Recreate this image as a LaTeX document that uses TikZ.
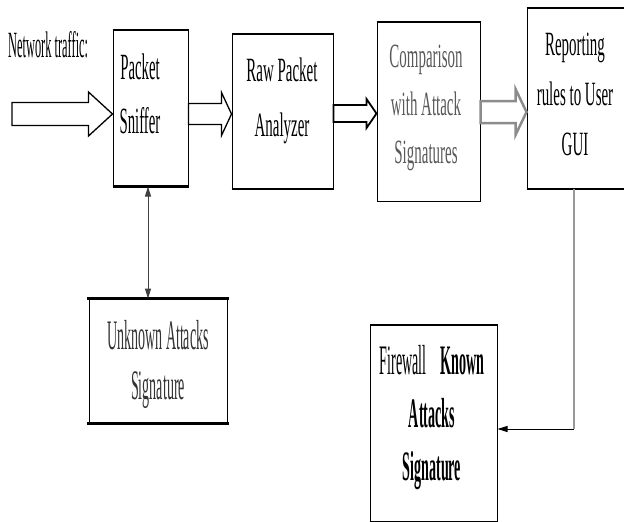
\documentclass[tikz,border=0pt]{standalone}
\usepackage{fontspec}
\usetikzlibrary{arrows.meta,calc}
\newfontfamily\condA[FakeStretch=0.40]{Liberation Serif}
\newfontfamily\condC[FakeStretch=0.44]{Liberation Serif}
\newfontfamily\condB[FakeStretch=0.335]{Liberation Serif}
\newcommand\hollowarrow[6]{%
  \draw[#1] let \p1=(#2), \p2=(#3) in
    (\x1,\y2+#4) -- (\x2-#6,\y2+#4) -- (\x2-#6,\y2+#5) -- (\x2,\y2)
    -- (\x2-#6,\y2-#5) -- (\x2-#6,\y2-#4) -- (\x1,\y2-#4) -- cycle;}
\tikzset{
  box/.style={draw=black, line width=1pt, rectangle, inner sep=0pt},
  lbl/.style={align=center, inner sep=0pt},
  txtA/.style={lbl, font=\condA\fontsize{37}{#1}\selectfont},
  txtC/.style={lbl, font=\condC\fontsize{34}{#1}\selectfont},
  txtB/.style={lbl, font=\condB\fontsize{42}{#1}\selectfont},
  thickedge/.style={line width=3pt, line cap=rect},
  harrow/.style={draw=black, line width=1.3pt, fill=white, line join=miter},
  thinarrow/.style={draw=black!75, line width=1pt},
  mytip/.tip={Triangle[length=10pt,width=6pt]},
}
\begin{document}
\begin{tikzpicture}[x=1pt,y=-1pt]
\useasboundingbox (0,0) rectangle (624,522);
% boxes
\node[box, minimum width=75pt, minimum height=156pt] (ps) at (150.5,108) {};
\node[box, minimum width=101pt, minimum height=154pt] (rpa) at (282.5,111) {};
\node[box, minimum width=103pt, minimum height=179pt] (cmp) at (428.5,111.5) {};
\node[box, minimum width=99pt, minimum height=180pt] (rep) at (576.5,98.5) {};
\node[box, line width=0.8pt, minimum width=138pt, minimum height=124pt] (unk) at (158,361) {};
\node[box, minimum width=127pt, minimum height=196pt] (fw) at (433.5,423) {};
% thick edges
\draw[line width=2pt] (ps.north west) -- (ps.north east);
\draw[line width=3pt] (ps.south west) -- (ps.south east);
\draw[line width=2pt] (rpa.north west) -- (rpa.north east);
\draw[line width=2pt] (rpa.south west) -- (rpa.south east);
\draw[line width=2pt] (cmp.north west) -- (cmp.north east);
\draw[line width=2pt] (rep.north west) -- (rep.north east);
\draw[line width=2.5pt] (rep.south west) -- (rep.south east);
\draw[thickedge] (unk.north west) -- (unk.north east);
\draw[thickedge] (unk.south west) -- (unk.south east);
\draw[line width=2pt] (fw.north west) -- (fw.north east);
\draw[line width=2pt] (fw.south west) -- (fw.south east);
% texts
\node[lbl, font=\condB\fontsize{37}{40}\selectfont, anchor=west] (nt) at (8,45) {Network traffic:};
\node[txtA={54}] (psT) at (140,93.5) {Packet\\Sniffer};
\node[txtC={55}] (rpaT) at (282,100.5) {Raw Packet\\Analyzer};
\node[txtC={48}, text=black!65] (cmpT) at (426,108) {Comparison\\with Attack\\Signatures};
\node[txtC={50}] (repT) at (575,94.5) {Reporting\\rules to User\\GUI};
\node[txtB={50}, text=black!80] (unkT) at (158,364) {Unknown Attacks\\Signature};
\node[txtB={53}] (fwT) at (432,418) {Firewall\hspace{14pt}\textbf{Known}\\\textbf{Attacks}\\\textbf{Signature}};
% hollow arrows
\coordinate (ay) at (0,114);
\coordinate (start) at (12,114);
\hollowarrow{harrow}{start}{ps.west|-ay}{11.5}{22}{24}
\hollowarrow{harrow}{ps.east|-ay}{rpa.west|-ay}{10.5}{21.5}{10}
\coordinate (ay3) at (0,113.5);
\hollowarrow{harrow, line width=1.8pt}{rpa.east|-ay3}{cmp.west|-ay3}{8.5}{14.5}{10}
\coordinate (ay4) at (0,112);
\hollowarrow{harrow, draw=black!45, line width=2.5pt}{cmp.east|-ay4}{rep.west|-ay4}{11}{23}{11}
% double arrow
\coordinate (dx) at (148,0);
\draw[thinarrow, mytip-mytip] (ps.south-|dx) -- (unk.north-|dx);
% reporting to firewall
\coordinate (rx) at (574,0);
\coordinate (corner) at (574,429);
\draw[draw=black!40, line width=1.3pt] (rep.south-|rx) -- (corner);
\draw[draw=black, line width=1pt, -mytip] (corner) -- (fw.east|-corner);
\end{tikzpicture}
\end{document}
